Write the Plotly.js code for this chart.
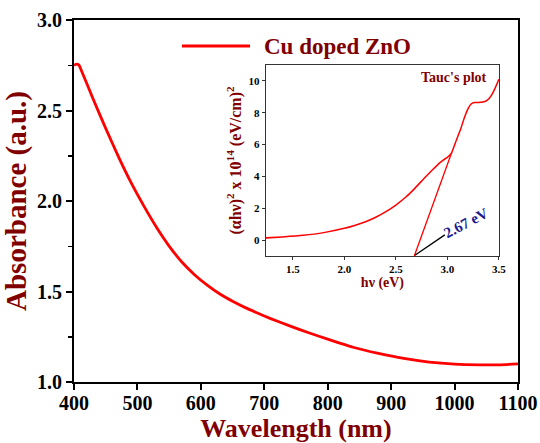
<!DOCTYPE html>
<html>
<head>
<meta charset="utf-8">
<script src="https://cdn.plot.ly/plotly-3.0.1.min.js"></script>
<style>html,body{margin:0;padding:0;background:#fff;}#chart{width:540px;height:443px;}</style>
</head>
<body>
<div id="chart"></div>
<script>
// Main spectrum
const wavelength = [400, 404, 408, 410, 430, 450, 470, 490, 510, 530, 550, 570, 590, 610, 630, 650, 670, 690, 710, 740, 770, 800, 840, 880, 920, 960, 1000, 1040, 1070, 1100];
const absorbance = [2.75, 2.756, 2.75, 2.735, 2.565, 2.401, 2.245, 2.101, 1.973, 1.855, 1.751, 1.663, 1.593, 1.535, 1.486, 1.446, 1.411, 1.380, 1.350, 1.310, 1.272, 1.237, 1.192, 1.158, 1.130, 1.110, 1.099, 1.095, 1.095, 1.100];
// Tauc plot (inset)
const hv = [1.24, 1.4, 1.6, 1.8, 2.0, 2.1, 2.2, 2.3, 2.4, 2.5, 2.6, 2.684, 2.78, 2.861, 2.92, 2.96, 3.0, 3.039, 3.088, 3.13, 3.168, 3.2, 3.23, 3.26, 3.29, 3.33, 3.37, 3.4, 3.43, 3.46, 3.5];
const tauc = [0.14, 0.2, 0.3, 0.47, 0.74, 0.92, 1.14, 1.42, 1.77, 2.2, 2.72, 3.25, 3.92, 4.45, 4.82, 5.03, 5.2, 5.45, 6.29, 7.0, 7.75, 8.25, 8.55, 8.64, 8.65, 8.66, 8.72, 8.86, 9.12, 9.5, 10.1];
// Tangent (linear fit) line
const fitX = [2.679, 3.042];
const fitY = [-1.0, 5.5];
const seriesName = "Cu doped ZnO";
const gapLabel = "2.67 eV";
const xTicks = [400, 500, 600, 700, 800, 900, 1000, 1100];
const yTicks = [1.0, 1.5, 2.0, 2.5, 3.0];
const insetXTicks = [1.5, 2.0, 2.5, 3.0, 3.5];
const insetYTicks = [0, 2, 4, 6, 8, 10];

const serif = "Liberation Serif, Times New Roman, serif";
const dark = "#800000";

const traces = [
  {x: wavelength, y: absorbance, type: "scatter", mode: "lines", name: seriesName,
   line: {color: "#ff0000", width: 2.8, shape: "spline", smoothing: 0.4}, xaxis: "x", yaxis: "y", showlegend: false},
  {x: hv, y: tauc, type: "scatter", mode: "lines",
   line: {color: "#ff0000", width: 1.5, shape: "spline", smoothing: 0.4}, xaxis: "x2", yaxis: "y2", showlegend: false},
  {x: fitX, y: fitY, type: "scatter", mode: "lines",
   line: {color: "#ff0000", width: 1.3}, xaxis: "x2", yaxis: "y2", showlegend: false}
];

const layout = {
  width: 540, height: 443,
  margin: {l: 74, r: 22, t: 20, b: 61},
  paper_bgcolor: "#fff", plot_bgcolor: "#fff",
  showlegend: false,
  xaxis: {
    range: [400, 1100], tickvals: xTicks, ticktext: xTicks.map(String),
    showline: true, linecolor: "#000", linewidth: 2, mirror: true,
    ticks: "outside", ticklen: 6, tickwidth: 2, tickcolor: "#000",
    ticklabelstandoff: -4,
    showgrid: false, zeroline: false,
    tickfont: {family: serif, size: 20, color: "#000", weight: "bold"},
    title: {text: "Wavelength (nm)", font: {family: serif, size: 26, color: dark, weight: "bold"}, standoff: 12}
  },
  yaxis: {
    range: [1.0, 3.0], tickvals: yTicks, ticktext: yTicks.map(v => v.toFixed(1)),
    showline: true, linecolor: "#000", linewidth: 2, mirror: true,
    ticks: "outside", ticklen: 6, tickwidth: 2, tickcolor: "#000",
    minor: {dtick: 0.25, tick0: 1.0, ticks: "outside", ticklen: 4, tickwidth: 1.5, tickcolor: "#000"},
    showgrid: false, zeroline: false,
    tickfont: {family: serif, size: 20, color: "#000", weight: "bold"},
    title: {text: "Absorbance (a.u.)", font: {family: serif, size: 29, color: dark, weight: "bold"}, standoff: 8}
  },
  xaxis2: {
    domain: [0.4324, 0.957], anchor: "y2", range: [1.24, 3.5],
    tickvals: insetXTicks, ticktext: insetXTicks.map(v => v.toFixed(1)),
    showline: true, linecolor: "#333", linewidth: 1.2, mirror: true,
    ticks: "outside", ticklen: 3, tickwidth: 1, tickcolor: "#333",
    showgrid: false, zeroline: false,
    tickfont: {family: serif, size: 11, color: "#000", weight: "bold"},
    title: {text: "hν (eV)", font: {family: serif, size: 14, color: dark, weight: "bold"}, standoff: 2}
  },
  yaxis2: {
    domain: [0.348, 0.8757], anchor: "x2", range: [-1, 11],
    tickvals: insetYTicks, ticktext: insetYTicks.map(String),
    showline: true, linecolor: "#333", linewidth: 1.2, mirror: true,
    ticks: "outside", ticklen: 3, tickwidth: 1, tickcolor: "#333",
    showgrid: false, zeroline: false,
    tickfont: {family: serif, size: 11, color: "#000", weight: "bold"},
    title: {text: "(αhν)<sup>2</sup> x 10<sup>14</sup> (eV/cm)<sup>2</sup>", font: {family: serif, size: 16, color: dark, weight: "bold"}, standoff: 3}
  },
  shapes: [
    // legend sample line
    {type: "line", xref: "paper", yref: "paper", x0: (182 - 74) / 444, x1: (250 - 74) / 444,
     y0: 1 - (46 - 20) / 362, y1: 1 - (46 - 20) / 362, line: {color: "#ff0000", width: 2.8}},
    // pointer line to band gap
    {type: "line", xref: "x2", yref: "y2", x0: 2.685, y0: -0.95, x1: 2.975, y1: 0.33,
     line: {color: "#000", width: 1.3}}
  ],
  annotations: [
    {xref: "paper", yref: "paper", x: (262 - 74) / 444, y: 1 - (46 - 20) / 362, xanchor: "left", yanchor: "middle",
     text: seriesName, showarrow: false, font: {family: serif, size: 23, color: dark, weight: "bold"}},
    {xref: "x2", yref: "y2", x: 3.40, y: 10.2, xanchor: "right", yanchor: "middle",
     text: "Tauc's plot", showarrow: false, font: {family: serif, size: 14, color: dark, weight: "bold"}},
    {xref: "x2", yref: "y2", x: 3.18, y: 1.1, xanchor: "center", yanchor: "middle", textangle: -28,
     text: gapLabel, showarrow: false, font: {family: serif, size: 15, color: "#1a1a8c", weight: "bold"}}
  ]
};

Plotly.newPlot("chart", traces, layout, {staticPlot: true, displayModeBar: false});
</script>
</body>
</html>
